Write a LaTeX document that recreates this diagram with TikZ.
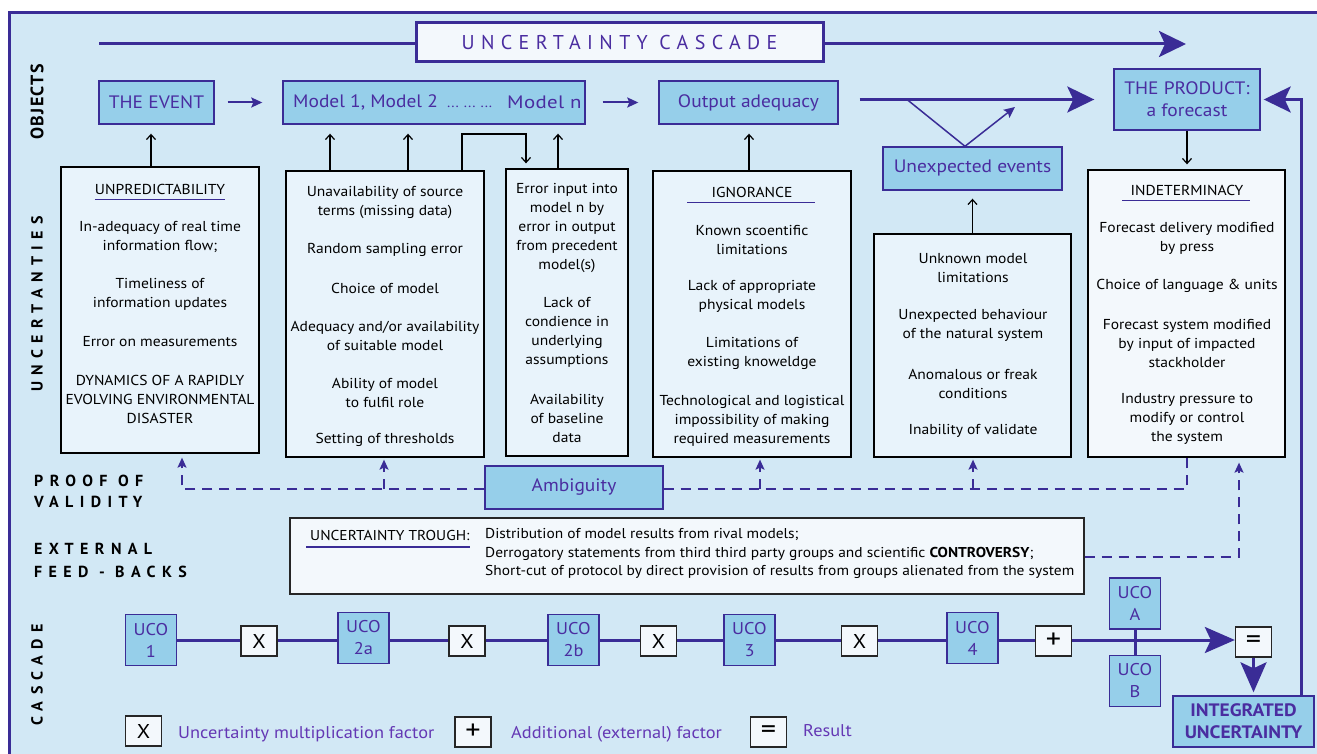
\documentclass[tikz,border=0pt]{standalone}
\usepackage{fontspec}
\setmainfont{PT Sans}[FakeStretch=1.08]
\newfontfamily\spcfont{PT Sans}[LetterSpace=40]
\newfontfamily\objfont{PT Sans}[LetterSpace=8]
\newfontfamily\ttlfont{PT Sans}[LetterSpace=32]
\newfontfamily\mnfont{PT Sans}[FakeStretch=1.16,LetterSpace=2]
\usetikzlibrary{arrows.meta,calc}
\definecolor{bg}{HTML}{D2E8F5}
\definecolor{purp}{HTML}{3A2C96}
\definecolor{boxblue}{HTML}{96CFEA}
\definecolor{txtpurp}{HTML}{4A2DA0}
\definecolor{legpurp}{HTML}{6438B4}
\definecolor{ubfill}{HTML}{E8F3FB}
\definecolor{wfill}{HTML}{F3F8FC}
\begin{document}
\begin{tikzpicture}[x=1pt,y=-1pt,
  bluebox/.style={draw=purp, line width=1.4pt, fill=boxblue, inner sep=0pt, text=txtpurp, font=\fontsize{18}{22}\selectfont, align=center},
  ubox/.style={draw=black, line width=1.3pt, fill=ubfill, inner sep=0pt},
  wbox/.style={draw=black!85, line width=1.3pt, fill=wfill, inner sep=0pt},
  txt/.style={font=\fontsize{14.4}{19}\selectfont, align=center, inner sep=0pt},
  uline/.style={draw=purp, line width=1.8pt},
  blk/.style={draw=black, line width=1.2pt, -{Straight Barb[length=5pt,width=9pt]}},
  dsh/.style={draw=purp, line width=1.5pt, dash pattern=on 10pt off 7pt},
  dtip/.style={-{Stealth[length=10pt,width=9pt,inset=2pt]}},
  thk/.style={draw=purp, line width=3pt},
  bigtip/.style={-{Stealth[length=27pt,width=26pt,inset=6pt]}},
  midarrow/.style={draw=purp, line width=2pt, -{Stealth[length=11pt,width=10pt,inset=2pt]}},
  thinp/.style={draw=purp, line width=1.5pt},
  lab/.style={font=\fontsize{16}{21}\selectfont\spcfont\bfseries, inner sep=0pt, align=left},
  ucob/.style={bluebox, minimum width=51pt, minimum height=51pt, font=\fontsize{17}{22}\selectfont},
  opb/.style={wbox, minimum width=36pt, minimum height=30pt, font=\fontsize{20}{20}\selectfont},
  opbig/.style={opb, font=\fontsize{28}{28}\selectfont},
  mtxt/.style={anchor=west, text=txtpurp, font=\fontsize{18}{22}\selectfont, inner sep=0pt},
  legt/.style={text=legpurp, font=\fontsize{17}{20}\selectfont, inner sep=0pt, anchor=west}
]
\useasboundingbox (0,0) rectangle (1317,754);
\fill[white] (0,0) rectangle (1317,754);
\draw[purp, line width=3pt, fill=bg] (9,13) rectangle (1340,780);

% title
\node[draw=purp, line width=3pt, fill=wfill, minimum width=407pt, minimum height=39pt, inner sep=0pt, text=txtpurp, font=\fontsize{20}{20}\selectfont\ttlfont] (title) at (619.5,42.5) {UNCERTAINTY CASCADE};
\coordinate (tL) at (99,44);
\coordinate (tR) at (1186,44);
\draw[thk] (tL) -- (title.west |- tL);
\draw[thk, bigtip] (title.east |- tR) -- (tR);

% side labels
\node[rotate=90, font=\fontsize{18}{18}\selectfont\objfont\bfseries, inner sep=0pt] (lobj) at (37,102) {OBJECTS};
\node[rotate=90, font=\fontsize{16}{16}\selectfont\spcfont\bfseries, inner sep=0pt] (lunc) at (37,304) {UNCERTANTIES};
\node[rotate=90, font=\fontsize{16}{16}\selectfont\spcfont\bfseries, inner sep=0pt] (lcas) at (37,675) {CASCADE};
\node[lab, anchor=west] (lproof) at (34,491.5) {PROOF OF\\VALIDITY};
\node[lab, anchor=west, font=\fontsize{16}{23}\selectfont\spcfont\bfseries] (lext) at (34,560.5) {EXTERNAL\\FEED - BACKS};

% objects
\node[bluebox, minimum width=115pt, minimum height=43pt] (event) at (156.5,102.5) {THE EVENT};
\node[bluebox, minimum width=302pt, minimum height=43pt] (models) at (434,102.5) {};
\node[mtxt] (m1) at (293,102.5) {Model 1, Model 2};
\node[mtxt, anchor=base west, font=\fontsize{14}{14}\selectfont] (mdots) at (447,108) {...\hspace{5pt}...\hspace{5pt}...};
\node[mtxt, font=\fontsize{18}{22}\selectfont\mnfont] (mn) at (507,102.5) {Model n};
\node[bluebox, minimum width=179pt, minimum height=43pt] (output) at (748.5,102.5) {Output adequacy};
\node[bluebox, minimum width=179pt, minimum height=43pt] (unexp) at (972.5,168.5) {Unexpected events};
\node[bluebox, minimum width=146pt, minimum height=61pt] (product) at (1187,99.5) {THE PRODUCT:\\a forecast};
\node[bluebox, minimum width=141pt, minimum height=51pt, font=\fontsize{18}{22}\selectfont\bfseries] (integ) at (1243.5,721.5) {INTEGRATED\\UNCERTAINTY};

\draw[midarrow, shorten <=13pt, shorten >=20pt] (event.east) -- (models.west);
\draw[midarrow, shorten <=17pt, shorten >=20pt] (models.east) -- (output.west);
\draw[thk, bigtip, shorten <=21pt, shorten >=19pt] (output.east |- product.west) -- (product.west);
\coordinate (tri1) at (907,99.5);
\coordinate (tri2) at (1015,107);
\draw[thinp] (tri1) -- ([xshift=-7.5pt]unexp.north);
\draw[thinp, -{Stealth[length=11pt,width=10pt,inset=2pt]}] ([xshift=-7.5pt]unexp.north) -- (tri2);
\coordinate (fb) at (1301,99.5);
\draw[thk, bigtip, shorten >=3pt] (fb |- integ.north) -- (fb) -- (product.east);

% uncertainty boxes
\node[ubox, minimum width=198pt, minimum height=286pt] (ub1) at (160,310) {};
\node[ubox, minimum width=198pt, minimum height=286pt] (ub2) at (385,314) {};
\node[ubox, minimum width=122pt, minimum height=287pt] (ub3) at (567,312.5) {};
\node[ubox, minimum width=198pt, minimum height=286pt] (ub4) at (752,314) {};
\node[ubox, minimum width=197pt, minimum height=223pt] (ub5) at (972.5,345.5) {};
\node[wbox, draw=black, minimum width=197pt, minimum height=287pt] (ub6) at (1186.5,313.5) {};

% black arrows
\draw[blk, shorten >=9pt] ([xshift=-5.5pt]event.south |- ub1.north) -- ([xshift=-5.5pt]event.south);
\coordinate (a21) at (330,0);
\coordinate (a22) at (408,0);
\coordinate (a23) at (558,0);
\draw[blk, shorten >=9pt] (a21 |- ub2.north) -- (a21 |- models.south);
\draw[blk, shorten >=9pt] (a22 |- ub2.north) -- (a22 |- models.south);
\draw[blk, shorten >=9pt] (a23 |- ub3.north) -- (a23 |- models.south);
\coordinate (e1) at (462,134);
\coordinate (e2) at (526,134);
\draw[blk, shorten >=5pt] (e1 |- ub2.north) -- (e1) -- (e2) -- (e2 |- ub3.north);
\draw[blk, shorten >=9pt] ([xshift=0.5pt]output.south |- ub4.north) -- ([xshift=0.5pt]output.south);
\draw[blk, shorten >=8pt] (ub5.north) -- (ub5.north |- unexp.south);
\draw[blk, shorten >=5pt] (product.south) -- (product.south |- ub6.north);

% texts box 1
\node[txt] (h1) at (160,189) {UNPREDICTABILITY};
\draw[uline] ([yshift=-5pt]h1.south west) -- ([yshift=-5pt]h1.south east);
\node[txt] (t1a) at (160,236.5) {In-adequacy of real time\\information flow;};
\node[txt] (t1b) at (160,294.5) {Timeliness of\\information updates};
\node[txt] (t1c) at (160,342) {Error on measurements};
\node[txt] (t1d) at (160,399) {DYNAMICS OF A RAPIDLY\\EVOLVING ENVIRONMENTAL\\DISASTER};
% box 2
\node[txt] (t2a) at (385,202.5) {Unavailability of source\\terms (missing data)};
\node[txt] (t2b) at (385,250) {Random sampling error};
\node[txt] (t2c) at (385,288) {Choice of model};
\node[txt] (t2d) at (385,335.5) {Adequacy and/or availability\\of suitable model};
\node[txt] (t2e) at (385,392.5) {Ability of model\\to fulfil role};
\node[txt] (t2f) at (385,440) {Setting of thresholds};
% box 3
\node[txt] (t3a) at (567,228) {Error input into\\model n by\\error in output\\from precedent\\model(s)};
\node[txt] (t3b) at (567,332.5) {Lack of\\condience in\\underlying\\assumptions};
\node[txt] (t3c) at (567,418) {Availability\\of baseline\\data};
% box 4
\node[txt] (h4) at (752,192) {IGNORANCE};
\draw[uline] ([xshift=-65pt,yshift=-5pt]h4.south) -- ([xshift=63pt,yshift=-5pt]h4.south);
\node[txt] (t4a) at (752,239.5) {Known scoentific\\limitations};
\node[txt] (t4b) at (752,296.5) {Lack of appropriate\\physical models};
\node[txt] (t4c) at (752,353.5) {Limitations of\\existing knoweldge};
\node[txt] (t4d) at (752,421) {Technological and logistical\\impossibility of making\\required measurements};
% box 5
\node[txt] (t5a) at (973,268.5) {Unknown model\\limitations};
\node[txt] (t5b) at (973,325.5) {Unexpected behaviour\\of the natural system};
\node[txt] (t5c) at (973,383.5) {Anomalous or freak\\conditions};
\node[txt] (t5d) at (973,431) {Inability of validate};
% box 6
\node[txt] (h6) at (1187,190) {INDETERMINACY};
\draw[uline] ([xshift=-65pt,yshift=-5pt]h6.south) -- ([xshift=63pt,yshift=-5pt]h6.south);
\node[txt] (t6a) at (1187,238) {Forecast delivery modified\\by press};
\node[txt] (t6b) at (1187,286) {Choice of language \& units};
\node[txt] (t6c) at (1187,343) {Forecast system modified\\by input of impacted\\stackholder};
\node[txt] (t6d) at (1187,419) {Industry pressure to\\modify or control\\the system};

% ambiguity
\node[bluebox, minimum width=178pt, minimum height=43pt] (amb) at (574,487.5) {Ambiguity};
\coordinate (dL) at (182,489);
\coordinate (d2) at (384,489);
\coordinate (d4) at (760,489);
\coordinate (d5) at (973,489);
\coordinate (dR) at (1187,489);
\draw[dsh, dtip, shorten >=4pt] (amb.west |- dL) -- (dL) -- (dL |- ub1.south);
\draw[dsh, dtip, shorten >=2pt] (d2) -- (d2 |- ub2.south);
\draw[dsh] (amb.east |- dR) -- (dR) -- (dR |- ub6.south);
\draw[dsh, dtip, shorten >=2pt] (d4) -- (d4 |- ub4.south);
\draw[dsh, dtip, shorten >=2pt] (d5) -- (d5 |- ub5.south);

% trough
\node[wbox, minimum width=794pt, minimum height=76pt] (trough) at (687,556) {};
\node[anchor=west, font=\fontsize{14.3}{18.5}\selectfont, inner sep=0pt] (trh) at (310,535) {UNCERTAINTY TROUGH:};
\draw[uline] ([xshift=-4pt,yshift=-7pt]trh.south west) -- ([yshift=-7pt]trh.south east);
\node[anchor=west, align=left, font=\fontsize{14.3}{18.5}\selectfont, inner sep=0pt] (trt) at (485,553.5) {Distribution of model results from rival models;\\Derrogatory statements from third third party groups and scientific \textbf{CONTROVERSY};\\Short-cut of protocol by direct provision of results from groups alienated from the system};
\coordinate (dT) at (1239,557);
\draw[dsh, dtip, shorten >=5pt] (trough.east |- dT) -- (dT) -- (dT |- ub6.south);

% cascade
\node[ucob] (u1) at (151,640) {UCO\\1};
\node[opb] (x1) at (259,641) {X};
\node[ucob] (u2a) at (363.5,638) {UCO\\2a};
\node[opb] (x2) at (467,641) {X};
\node[ucob] (u2b) at (573.5,640) {UCO\\2b};
\node[opb] (x3) at (658.5,641) {X};
\node[ucob] (u3) at (749.5,640) {UCO\\3};
\node[opb] (x4) at (859.5,641) {X};
\node[ucob] (u4) at (972.5,638) {UCO\\4};
\node[opbig] (plus) at (1053.5,641) {+};
\node[ucob] (uA) at (1135,603.5) {UCO\\A};
\node[ucob] (uB) at (1135,681) {UCO\\B};
\node[opbig] (eq) at (1253.5,642) {=};
\coordinate (cy) at (0,640);
\draw[thk] (u1.east |- cy) -- (x1.west |- cy);
\draw[thk] (x1.east |- cy) -- (u2a.west |- cy);
\draw[thk] (u2a.east |- cy) -- (x2.west |- cy);
\draw[thk] (x2.east |- cy) -- (u2b.west |- cy);
\draw[thk] (u2b.east |- cy) -- (x3.west |- cy);
\draw[thk] (x3.east |- cy) -- (u3.west |- cy);
\draw[thk] (u3.east |- cy) -- (x4.west |- cy);
\draw[thk] (x4.east |- cy) -- (u4.west |- cy);
\draw[thk] (u4.east |- cy) -- (plus.west |- cy);
\draw[thk, -{Stealth[length=30pt,width=26pt,inset=6pt]}] (plus.east |- cy) -- (eq.west |- cy);
\draw[thk] (uA.south) -- (uB.north);
\draw[thk, -{Stealth[length=30pt,width=26pt,inset=6pt]}, shorten >=3pt] (eq.south) -- (eq.south |- integ.north);

% legend
\node[opb] (lx) at (143.5,731) {X};
\node[legt] (lxt) at (178,734) {Uncertainty multiplication factor};
\node[opbig] (lp) at (473,732) {+};
\node[legt] (lpt) at (511,734) {Additional (external) factor};
\node[opbig] (le) at (768.5,732) {=};
\node[legt] (let) at (803,731) {Result};
\end{tikzpicture}
\end{document}
